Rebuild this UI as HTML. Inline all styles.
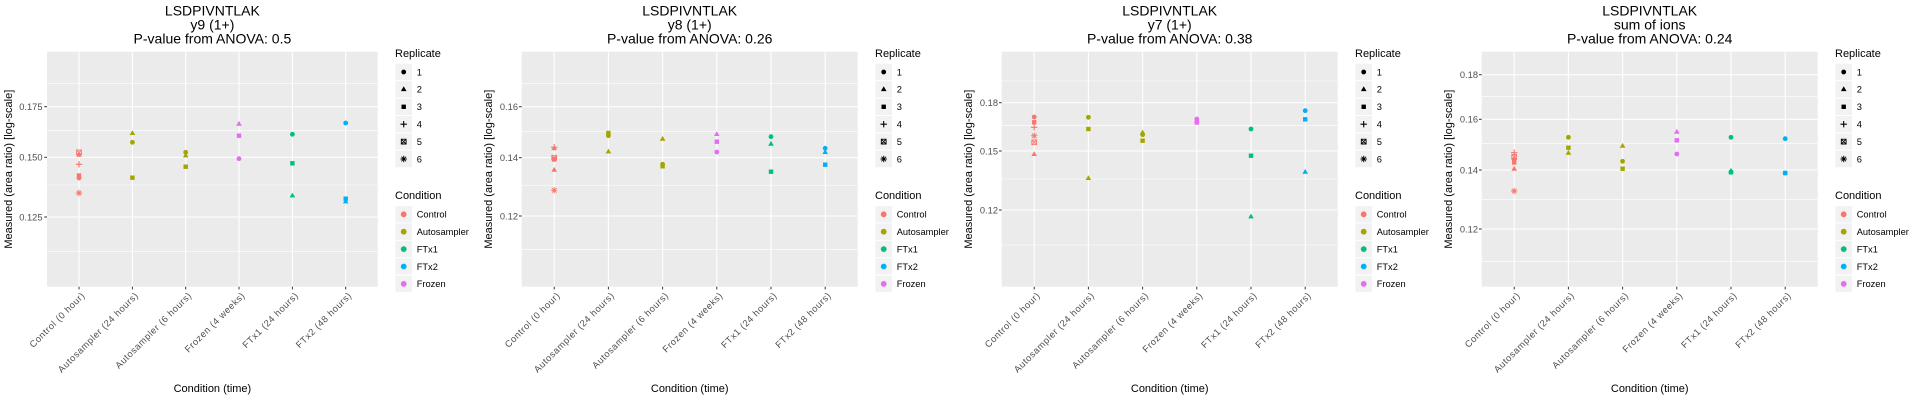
<!DOCTYPE html>
<html>
<head>
<meta charset="utf-8">
<style>
  html,body{margin:0;padding:0;background:#fff;}
  svg{display:block;}
  text{font-family:"Liberation Sans", Arial, sans-serif;}
  .tt{font-size:14px;fill:#000;}
  .at{font-size:11px;fill:#000;}
  .tk{font-size:9.3px;fill:#4D4D4D;}
  .xl{font-size:9.3px;fill:#4D4D4D;letter-spacing:0.55px;}
  .lt{font-size:11px;fill:#000;}
  .lx{font-size:9.3px;fill:#000;}
  .bg{fill:#EBEBEB;}
  .mj{stroke:#fff;stroke-width:1.07;}
  .mn{stroke:#fff;stroke-width:0.53;}
  .tc{stroke:#333;stroke-width:1;}
  .key{fill:#F2F2F2;stroke:#fff;stroke-width:1;}
</style>
</head>
<body>
<svg width="1920" height="400" viewBox="0 0 1920 400" xmlns="http://www.w3.org/2000/svg">
<defs>
  <circle id="m1" r="2.4"/>
  <path id="m2" d="M0,-3.1L2.8,1.7L-2.8,1.7Z"/>
  <rect id="m3" x="-2.2" y="-2.2" width="4.4" height="4.4"/>
  <path id="m4" d="M-3.2,0H3.2M0,-3.2V3.2" fill="none" stroke-width="1.1"/>
  <path id="m5" d="M-2.4,-2.4H2.4V2.4H-2.4ZM-2.4,-2.4L2.4,2.4M2.4,-2.4L-2.4,2.4" fill="none" stroke-width="0.9"/>
  <path id="m6" d="M-3.2,0H3.2M0,-3.2V3.2M-2.3,-2.3L2.3,2.3M2.3,-2.3L-2.3,2.3" fill="none" stroke-width="0.9"/>
  <circle id="lc" r="2.9"/>
</defs>
<rect x="0" y="0" width="1920" height="400" fill="#fff"/>

<!-- ================= PANEL 1 ================= -->
<g transform="translate(0,0)">
  <text class="tt" x="212.4" y="15.3" text-anchor="middle">LSDPIVNTLAK</text>
  <text class="tt" x="212.4" y="29.3" text-anchor="middle">y9 (1+)</text>
  <text class="tt" x="212.4" y="43.3" text-anchor="middle">P-value from ANOVA: 0.5</text>

  <rect class="bg" x="47" y="51.7" width="330.7" height="235"/>
  <line class="mn" x1="47" x2="377.7" y1="83.3" y2="83.3"/>
  <line class="mn" x1="47" x2="377.7" y1="130.7" y2="130.7"/>
  <line class="mn" x1="47" x2="377.7" y1="185" y2="185"/>
  <line class="mn" x1="47" x2="377.7" y1="251.7" y2="251.7"/>
  <line class="mj" x1="47" x2="377.7" y1="106.7" y2="106.7"/>
  <line class="mj" x1="47" x2="377.7" y1="157.3" y2="157.3"/>
  <line class="mj" x1="47" x2="377.7" y1="217" y2="217"/>
  <line class="mj" x1="79" x2="79" y1="51.7" y2="286.7"/>
  <line class="mj" x1="132.4" x2="132.4" y1="51.7" y2="286.7"/>
  <line class="mj" x1="185.7" x2="185.7" y1="51.7" y2="286.7"/>
  <line class="mj" x1="239" x2="239" y1="51.7" y2="286.7"/>
  <line class="mj" x1="292.4" x2="292.4" y1="51.7" y2="286.7"/>
  <line class="mj" x1="345.7" x2="345.7" y1="51.7" y2="286.7"/>

  <line class="tc" x1="44.3" x2="47" y1="106.7" y2="106.7"/>
  <line class="tc" x1="44.3" x2="47" y1="157.3" y2="157.3"/>
  <line class="tc" x1="44.3" x2="47" y1="217" y2="217"/>
  <text class="tk" x="42.5" y="110" text-anchor="end">0.175</text>
  <text class="tk" x="42.5" y="160.6" text-anchor="end">0.150</text>
  <text class="tk" x="42.5" y="220.3" text-anchor="end">0.125</text>

  <line class="tc" x1="79" x2="79" y1="286.7" y2="289.4"/>
  <line class="tc" x1="132.4" x2="132.4" y1="286.7" y2="289.4"/>
  <line class="tc" x1="185.7" x2="185.7" y1="286.7" y2="289.4"/>
  <line class="tc" x1="239" x2="239" y1="286.7" y2="289.4"/>
  <line class="tc" x1="292.4" x2="292.4" y1="286.7" y2="289.4"/>
  <line class="tc" x1="345.7" x2="345.7" y1="286.7" y2="289.4"/>
  <text class="xl" transform="translate(85.5,296) rotate(-45)" text-anchor="end">Control (0 hour)</text>
  <text class="xl" transform="translate(138.9,296) rotate(-45)" text-anchor="end">Autosampler (24 hours)</text>
  <text class="xl" transform="translate(192.2,296) rotate(-45)" text-anchor="end">Autosampler (6 hours)</text>
  <text class="xl" transform="translate(245.5,296) rotate(-45)" text-anchor="end">Frozen (4 weeks)</text>
  <text class="xl" transform="translate(298.9,296) rotate(-45)" text-anchor="end">FTx1 (24 hours)</text>
  <text class="xl" transform="translate(352.2,296) rotate(-45)" text-anchor="end">FTx2 (48 hours)</text>

  <text class="at" x="212.4" y="392" text-anchor="middle">Condition (time)</text>
  <text class="at" transform="translate(12,169.2) rotate(-90)" text-anchor="middle">Measured (area ratio) [log-scale]</text>

  <!-- points -->
  <use href="#m5" x="79" y="152.3" stroke="#F8766D"/>
  <use href="#m2" x="79" y="155" fill="#F8766D"/>
  <use href="#m4" x="79" y="164.3" stroke="#F8766D"/>
  <use href="#m3" x="79" y="175.5" fill="#F8766D"/>
  <use href="#m1" x="79" y="178" fill="#F8766D"/>
  <use href="#m6" x="79" y="193" stroke="#F8766D"/>

  <use href="#m2" x="132.4" y="133.3" fill="#A3A500"/>
  <use href="#m1" x="132.4" y="142.3" fill="#A3A500"/>
  <use href="#m3" x="132.4" y="177.7" fill="#A3A500"/>

  <use href="#m1" x="185.7" y="152.3" fill="#A3A500"/>
  <use href="#m2" x="185.7" y="155.7" fill="#A3A500"/>
  <use href="#m3" x="185.7" y="166.7" fill="#A3A500"/>

  <use href="#m2" x="239" y="124" fill="#E76BF3"/>
  <use href="#m3" x="239" y="135.7" fill="#E76BF3"/>
  <use href="#m1" x="239" y="158.7" fill="#E76BF3"/>

  <use href="#m1" x="292.4" y="134.3" fill="#00BF7D"/>
  <use href="#m3" x="292.4" y="163.3" fill="#00BF7D"/>
  <use href="#m2" x="292.4" y="195.7" fill="#00BF7D"/>

  <use href="#m1" x="345.7" y="123" fill="#00B0F6"/>
  <use href="#m3" x="345.7" y="198.7" fill="#00B0F6"/>
  <use href="#m2" x="345.7" y="201.7" fill="#00B0F6"/>

  <!-- legend -->
  <text class="lt" x="395" y="57">Replicate</text>
  <rect class="key" x="395" y="63.3" width="17.4" height="17.4"/>
  <rect class="key" x="395" y="80.7" width="17.4" height="17.4"/>
  <rect class="key" x="395" y="98.1" width="17.4" height="17.4"/>
  <rect class="key" x="395" y="115.5" width="17.4" height="17.4"/>
  <rect class="key" x="395" y="132.9" width="17.4" height="17.4"/>
  <rect class="key" x="395" y="150.3" width="17.4" height="17.4"/>
  <use href="#m1" x="403.7" y="72" fill="#000"/>
  <use href="#m2" x="403.7" y="89.4" fill="#000"/>
  <use href="#m3" x="403.7" y="106.8" fill="#000"/>
  <use href="#m4" x="403.7" y="124.2" stroke="#000"/>
  <use href="#m5" x="403.7" y="141.6" stroke="#000"/>
  <use href="#m6" x="403.7" y="159" stroke="#000"/>
  <text class="lx" x="416.7" y="75.3">1</text>
  <text class="lx" x="416.7" y="92.7">2</text>
  <text class="lx" x="416.7" y="110.1">3</text>
  <text class="lx" x="416.7" y="127.5">4</text>
  <text class="lx" x="416.7" y="144.9">5</text>
  <text class="lx" x="416.7" y="162.3">6</text>

  <text class="lt" x="395" y="199">Condition</text>
  <rect class="key" x="395" y="205.6" width="17.4" height="17.4"/>
  <rect class="key" x="395" y="223" width="17.4" height="17.4"/>
  <rect class="key" x="395" y="240.4" width="17.4" height="17.4"/>
  <rect class="key" x="395" y="257.8" width="17.4" height="17.4"/>
  <rect class="key" x="395" y="275.2" width="17.4" height="17.4"/>
  <use href="#lc" x="403.7" y="214.3" fill="#F8766D"/>
  <use href="#lc" x="403.7" y="231.7" fill="#A3A500"/>
  <use href="#lc" x="403.7" y="249.1" fill="#00BF7D"/>
  <use href="#lc" x="403.7" y="266.5" fill="#00B0F6"/>
  <use href="#lc" x="403.7" y="283.9" fill="#E76BF3"/>
  <text class="lx" x="416.7" y="217.6">Control</text>
  <text class="lx" x="416.7" y="235">Autosampler</text>
  <text class="lx" x="416.7" y="252.4">FTx1</text>
  <text class="lx" x="416.7" y="269.8">FTx2</text>
  <text class="lx" x="416.7" y="287.2">Frozen</text>
</g>

<!-- ================= PANEL 2 ================= -->
<g transform="translate(480,0)">
  <text class="tt" x="209.7" y="15.3" text-anchor="middle">LSDPIVNTLAK</text>
  <text class="tt" x="209.7" y="29.3" text-anchor="middle">y8 (1+)</text>
  <text class="tt" x="209.7" y="43.3" text-anchor="middle">P-value from ANOVA: 0.26</text>

  <rect class="bg" x="41.7" y="51.7" width="336" height="235"/>
  <line class="mn" x1="41.7" x2="377.7" y1="83.3" y2="83.3"/>
  <line class="mn" x1="41.7" x2="377.7" y1="131.7" y2="131.7"/>
  <line class="mn" x1="41.7" x2="377.7" y1="185.5" y2="185.5"/>
  <line class="mn" x1="41.7" x2="377.7" y1="249.3" y2="249.3"/>
  <line class="mj" x1="41.7" x2="377.7" y1="106.7" y2="106.7"/>
  <line class="mj" x1="41.7" x2="377.7" y1="157.7" y2="157.7"/>
  <line class="mj" x1="41.7" x2="377.7" y1="216" y2="216"/>
  <line class="mj" x1="74.2" x2="74.2" y1="51.7" y2="286.7"/>
  <line class="mj" x1="128.4" x2="128.4" y1="51.7" y2="286.7"/>
  <line class="mj" x1="182.6" x2="182.6" y1="51.7" y2="286.7"/>
  <line class="mj" x1="236.8" x2="236.8" y1="51.7" y2="286.7"/>
  <line class="mj" x1="291" x2="291" y1="51.7" y2="286.7"/>
  <line class="mj" x1="345.2" x2="345.2" y1="51.7" y2="286.7"/>

  <line class="tc" x1="39" x2="41.7" y1="106.7" y2="106.7"/>
  <line class="tc" x1="39" x2="41.7" y1="157.7" y2="157.7"/>
  <line class="tc" x1="39" x2="41.7" y1="216" y2="216"/>
  <text class="tk" x="38" y="110" text-anchor="end">0.16</text>
  <text class="tk" x="38" y="161" text-anchor="end">0.14</text>
  <text class="tk" x="38" y="219.3" text-anchor="end">0.12</text>

  <line class="tc" x1="74.2" x2="74.2" y1="286.7" y2="289.4"/>
  <line class="tc" x1="128.4" x2="128.4" y1="286.7" y2="289.4"/>
  <line class="tc" x1="182.6" x2="182.6" y1="286.7" y2="289.4"/>
  <line class="tc" x1="236.8" x2="236.8" y1="286.7" y2="289.4"/>
  <line class="tc" x1="291" x2="291" y1="286.7" y2="289.4"/>
  <line class="tc" x1="345.2" x2="345.2" y1="286.7" y2="289.4"/>
  <text class="xl" transform="translate(80.7,296) rotate(-45)" text-anchor="end">Control (0 hour)</text>
  <text class="xl" transform="translate(134.9,296) rotate(-45)" text-anchor="end">Autosampler (24 hours)</text>
  <text class="xl" transform="translate(189.1,296) rotate(-45)" text-anchor="end">Autosampler (6 hours)</text>
  <text class="xl" transform="translate(243.3,296) rotate(-45)" text-anchor="end">Frozen (4 weeks)</text>
  <text class="xl" transform="translate(297.5,296) rotate(-45)" text-anchor="end">FTx1 (24 hours)</text>
  <text class="xl" transform="translate(351.7,296) rotate(-45)" text-anchor="end">FTx2 (48 hours)</text>

  <text class="at" x="209.7" y="392" text-anchor="middle">Condition (time)</text>
  <text class="at" transform="translate(12,169.2) rotate(-90)" text-anchor="middle">Measured (area ratio) [log-scale]</text>

  <use href="#m2" x="74.2" y="148.3" fill="#F8766D"/>
  <use href="#m4" x="74.2" y="147.3" stroke="#F8766D"/>
  <use href="#m5" x="74.2" y="157.7" stroke="#F8766D"/>
  <use href="#m3" x="74.2" y="159.5" fill="#F8766D"/>
  <use href="#m1" x="74.2" y="159" fill="#F8766D"/>
  <use href="#m2" x="74.2" y="170" fill="#F8766D"/>
  <use href="#m6" x="74.2" y="190.3" stroke="#F8766D"/>

  <use href="#m3" x="128.4" y="133" fill="#A3A500"/>
  <use href="#m1" x="128.4" y="135.7" fill="#A3A500"/>
  <use href="#m2" x="128.4" y="151.7" fill="#A3A500"/>

  <use href="#m2" x="182.6" y="139" fill="#A3A500"/>
  <use href="#m1" x="182.6" y="164.3" fill="#A3A500"/>
  <use href="#m3" x="182.6" y="166.3" fill="#A3A500"/>

  <use href="#m2" x="236.8" y="134.3" fill="#E76BF3"/>
  <use href="#m3" x="236.8" y="141.7" fill="#E76BF3"/>
  <use href="#m1" x="236.8" y="152" fill="#E76BF3"/>

  <use href="#m1" x="291" y="136.7" fill="#00BF7D"/>
  <use href="#m2" x="291" y="144" fill="#00BF7D"/>
  <use href="#m3" x="291" y="171.7" fill="#00BF7D"/>

  <use href="#m1" x="345.2" y="148.3" fill="#00B0F6"/>
  <use href="#m2" x="345.2" y="152.3" fill="#00B0F6"/>
  <use href="#m3" x="345.2" y="164.7" fill="#00B0F6"/>

  <text class="lt" x="395" y="57">Replicate</text>
  <rect class="key" x="395" y="63.3" width="17.4" height="17.4"/>
  <rect class="key" x="395" y="80.7" width="17.4" height="17.4"/>
  <rect class="key" x="395" y="98.1" width="17.4" height="17.4"/>
  <rect class="key" x="395" y="115.5" width="17.4" height="17.4"/>
  <rect class="key" x="395" y="132.9" width="17.4" height="17.4"/>
  <rect class="key" x="395" y="150.3" width="17.4" height="17.4"/>
  <use href="#m1" x="403.7" y="72" fill="#000"/>
  <use href="#m2" x="403.7" y="89.4" fill="#000"/>
  <use href="#m3" x="403.7" y="106.8" fill="#000"/>
  <use href="#m4" x="403.7" y="124.2" stroke="#000"/>
  <use href="#m5" x="403.7" y="141.6" stroke="#000"/>
  <use href="#m6" x="403.7" y="159" stroke="#000"/>
  <text class="lx" x="416.7" y="75.3">1</text>
  <text class="lx" x="416.7" y="92.7">2</text>
  <text class="lx" x="416.7" y="110.1">3</text>
  <text class="lx" x="416.7" y="127.5">4</text>
  <text class="lx" x="416.7" y="144.9">5</text>
  <text class="lx" x="416.7" y="162.3">6</text>

  <text class="lt" x="395" y="199">Condition</text>
  <rect class="key" x="395" y="205.6" width="17.4" height="17.4"/>
  <rect class="key" x="395" y="223" width="17.4" height="17.4"/>
  <rect class="key" x="395" y="240.4" width="17.4" height="17.4"/>
  <rect class="key" x="395" y="257.8" width="17.4" height="17.4"/>
  <rect class="key" x="395" y="275.2" width="17.4" height="17.4"/>
  <use href="#lc" x="403.7" y="214.3" fill="#F8766D"/>
  <use href="#lc" x="403.7" y="231.7" fill="#A3A500"/>
  <use href="#lc" x="403.7" y="249.1" fill="#00BF7D"/>
  <use href="#lc" x="403.7" y="266.5" fill="#00B0F6"/>
  <use href="#lc" x="403.7" y="283.9" fill="#E76BF3"/>
  <text class="lx" x="416.7" y="217.6">Control</text>
  <text class="lx" x="416.7" y="235">Autosampler</text>
  <text class="lx" x="416.7" y="252.4">FTx1</text>
  <text class="lx" x="416.7" y="269.8">FTx2</text>
  <text class="lx" x="416.7" y="287.2">Frozen</text>
</g>

<!-- ================= PANEL 3 ================= -->
<g transform="translate(960,0)">
  <text class="tt" x="209.7" y="15.3" text-anchor="middle">LSDPIVNTLAK</text>
  <text class="tt" x="209.7" y="29.3" text-anchor="middle">y7 (1+)</text>
  <text class="tt" x="209.7" y="43.3" text-anchor="middle">P-value from ANOVA: 0.38</text>

  <rect class="bg" x="41.7" y="51.7" width="336" height="235"/>
  <line class="mn" x1="41.7" x2="377.7" y1="81" y2="81"/>
  <line class="mn" x1="41.7" x2="377.7" y1="125.7" y2="125.7"/>
  <line class="mn" x1="41.7" x2="377.7" y1="179" y2="179"/>
  <line class="mn" x1="41.7" x2="377.7" y1="245" y2="245"/>
  <line class="mj" x1="41.7" x2="377.7" y1="102.7" y2="102.7"/>
  <line class="mj" x1="41.7" x2="377.7" y1="151" y2="151"/>
  <line class="mj" x1="41.7" x2="377.7" y1="210" y2="210"/>
  <line class="mj" x1="74.2" x2="74.2" y1="51.7" y2="286.7"/>
  <line class="mj" x1="128.4" x2="128.4" y1="51.7" y2="286.7"/>
  <line class="mj" x1="182.6" x2="182.6" y1="51.7" y2="286.7"/>
  <line class="mj" x1="236.8" x2="236.8" y1="51.7" y2="286.7"/>
  <line class="mj" x1="291" x2="291" y1="51.7" y2="286.7"/>
  <line class="mj" x1="345.2" x2="345.2" y1="51.7" y2="286.7"/>

  <line class="tc" x1="39" x2="41.7" y1="102.7" y2="102.7"/>
  <line class="tc" x1="39" x2="41.7" y1="151" y2="151"/>
  <line class="tc" x1="39" x2="41.7" y1="210" y2="210"/>
  <text class="tk" x="38" y="106" text-anchor="end">0.18</text>
  <text class="tk" x="38" y="154.3" text-anchor="end">0.15</text>
  <text class="tk" x="38" y="213.3" text-anchor="end">0.12</text>

  <line class="tc" x1="74.2" x2="74.2" y1="286.7" y2="289.4"/>
  <line class="tc" x1="128.4" x2="128.4" y1="286.7" y2="289.4"/>
  <line class="tc" x1="182.6" x2="182.6" y1="286.7" y2="289.4"/>
  <line class="tc" x1="236.8" x2="236.8" y1="286.7" y2="289.4"/>
  <line class="tc" x1="291" x2="291" y1="286.7" y2="289.4"/>
  <line class="tc" x1="345.2" x2="345.2" y1="286.7" y2="289.4"/>
  <text class="xl" transform="translate(80.7,296) rotate(-45)" text-anchor="end">Control (0 hour)</text>
  <text class="xl" transform="translate(134.9,296) rotate(-45)" text-anchor="end">Autosampler (24 hours)</text>
  <text class="xl" transform="translate(189.1,296) rotate(-45)" text-anchor="end">Autosampler (6 hours)</text>
  <text class="xl" transform="translate(243.3,296) rotate(-45)" text-anchor="end">Frozen (4 weeks)</text>
  <text class="xl" transform="translate(297.5,296) rotate(-45)" text-anchor="end">FTx1 (24 hours)</text>
  <text class="xl" transform="translate(351.7,296) rotate(-45)" text-anchor="end">FTx2 (48 hours)</text>

  <text class="at" x="209.7" y="392" text-anchor="middle">Condition (time)</text>
  <text class="at" transform="translate(12,169.2) rotate(-90)" text-anchor="middle">Measured (area ratio) [log-scale]</text>

  <use href="#m1" x="74.2" y="117" fill="#F8766D"/>
  <use href="#m3" x="74.2" y="122.3" fill="#F8766D"/>
  <use href="#m4" x="74.2" y="127.3" stroke="#F8766D"/>
  <use href="#m6" x="74.2" y="135.7" stroke="#F8766D"/>
  <use href="#m5" x="74.2" y="142.3" stroke="#F8766D"/>
  <use href="#m2" x="74.2" y="154.3" fill="#F8766D"/>

  <use href="#m1" x="128.4" y="117.3" fill="#A3A500"/>
  <use href="#m3" x="128.4" y="129" fill="#A3A500"/>
  <use href="#m2" x="128.4" y="178.3" fill="#A3A500"/>

  <use href="#m2" x="182.6" y="132.7" fill="#A3A500"/>
  <use href="#m1" x="182.6" y="134.7" fill="#A3A500"/>
  <use href="#m3" x="182.6" y="140.7" fill="#A3A500"/>

  <use href="#m1" x="236.8" y="119" fill="#E76BF3"/>
  <use href="#m2" x="236.8" y="121" fill="#E76BF3"/>
  <use href="#m3" x="236.8" y="122.5" fill="#E76BF3"/>

  <use href="#m1" x="291" y="129" fill="#00BF7D"/>
  <use href="#m3" x="291" y="155.7" fill="#00BF7D"/>
  <use href="#m2" x="291" y="216.7" fill="#00BF7D"/>

  <use href="#m1" x="345.2" y="110.7" fill="#00B0F6"/>
  <use href="#m3" x="345.2" y="119.3" fill="#00B0F6"/>
  <use href="#m2" x="345.2" y="172" fill="#00B0F6"/>

  <text class="lt" x="395" y="57">Replicate</text>
  <rect class="key" x="395" y="63.3" width="17.4" height="17.4"/>
  <rect class="key" x="395" y="80.7" width="17.4" height="17.4"/>
  <rect class="key" x="395" y="98.1" width="17.4" height="17.4"/>
  <rect class="key" x="395" y="115.5" width="17.4" height="17.4"/>
  <rect class="key" x="395" y="132.9" width="17.4" height="17.4"/>
  <rect class="key" x="395" y="150.3" width="17.4" height="17.4"/>
  <use href="#m1" x="403.7" y="72" fill="#000"/>
  <use href="#m2" x="403.7" y="89.4" fill="#000"/>
  <use href="#m3" x="403.7" y="106.8" fill="#000"/>
  <use href="#m4" x="403.7" y="124.2" stroke="#000"/>
  <use href="#m5" x="403.7" y="141.6" stroke="#000"/>
  <use href="#m6" x="403.7" y="159" stroke="#000"/>
  <text class="lx" x="416.7" y="75.3">1</text>
  <text class="lx" x="416.7" y="92.7">2</text>
  <text class="lx" x="416.7" y="110.1">3</text>
  <text class="lx" x="416.7" y="127.5">4</text>
  <text class="lx" x="416.7" y="144.9">5</text>
  <text class="lx" x="416.7" y="162.3">6</text>

  <text class="lt" x="395" y="199">Condition</text>
  <rect class="key" x="395" y="205.6" width="17.4" height="17.4"/>
  <rect class="key" x="395" y="223" width="17.4" height="17.4"/>
  <rect class="key" x="395" y="240.4" width="17.4" height="17.4"/>
  <rect class="key" x="395" y="257.8" width="17.4" height="17.4"/>
  <rect class="key" x="395" y="275.2" width="17.4" height="17.4"/>
  <use href="#lc" x="403.7" y="214.3" fill="#F8766D"/>
  <use href="#lc" x="403.7" y="231.7" fill="#A3A500"/>
  <use href="#lc" x="403.7" y="249.1" fill="#00BF7D"/>
  <use href="#lc" x="403.7" y="266.5" fill="#00B0F6"/>
  <use href="#lc" x="403.7" y="283.9" fill="#E76BF3"/>
  <text class="lx" x="416.7" y="217.6">Control</text>
  <text class="lx" x="416.7" y="235">Autosampler</text>
  <text class="lx" x="416.7" y="252.4">FTx1</text>
  <text class="lx" x="416.7" y="269.8">FTx2</text>
  <text class="lx" x="416.7" y="287.2">Frozen</text>
</g>

<!-- ================= PANEL 4 ================= -->
<g transform="translate(1440,0)">
  <text class="tt" x="209.7" y="15.3" text-anchor="middle">LSDPIVNTLAK</text>
  <text class="tt" x="209.7" y="29.3" text-anchor="middle">sum of ions</text>
  <text class="tt" x="209.7" y="43.3" text-anchor="middle">P-value from ANOVA: 0.24</text>

  <rect class="bg" x="41.7" y="51.7" width="336" height="235"/>
  <line class="mn" x1="41.7" x2="377.7" y1="96.7" y2="96.7"/>
  <line class="mn" x1="41.7" x2="377.7" y1="143.3" y2="143.3"/>
  <line class="mn" x1="41.7" x2="377.7" y1="199.3" y2="199.3"/>
  <line class="mn" x1="41.7" x2="377.7" y1="261.7" y2="261.7"/>
  <line class="mj" x1="41.7" x2="377.7" y1="74.7" y2="74.7"/>
  <line class="mj" x1="41.7" x2="377.7" y1="119.3" y2="119.3"/>
  <line class="mj" x1="41.7" x2="377.7" y1="170" y2="170"/>
  <line class="mj" x1="41.7" x2="377.7" y1="229" y2="229"/>
  <line class="mj" x1="74.2" x2="74.2" y1="51.7" y2="286.7"/>
  <line class="mj" x1="128.4" x2="128.4" y1="51.7" y2="286.7"/>
  <line class="mj" x1="182.6" x2="182.6" y1="51.7" y2="286.7"/>
  <line class="mj" x1="236.8" x2="236.8" y1="51.7" y2="286.7"/>
  <line class="mj" x1="291" x2="291" y1="51.7" y2="286.7"/>
  <line class="mj" x1="345.2" x2="345.2" y1="51.7" y2="286.7"/>

  <line class="tc" x1="39" x2="41.7" y1="74.7" y2="74.7"/>
  <line class="tc" x1="39" x2="41.7" y1="119.3" y2="119.3"/>
  <line class="tc" x1="39" x2="41.7" y1="170" y2="170"/>
  <line class="tc" x1="39" x2="41.7" y1="229" y2="229"/>
  <text class="tk" x="38" y="78" text-anchor="end">0.18</text>
  <text class="tk" x="38" y="122.6" text-anchor="end">0.16</text>
  <text class="tk" x="38" y="173.3" text-anchor="end">0.14</text>
  <text class="tk" x="38" y="232.3" text-anchor="end">0.12</text>

  <line class="tc" x1="74.2" x2="74.2" y1="286.7" y2="289.4"/>
  <line class="tc" x1="128.4" x2="128.4" y1="286.7" y2="289.4"/>
  <line class="tc" x1="182.6" x2="182.6" y1="286.7" y2="289.4"/>
  <line class="tc" x1="236.8" x2="236.8" y1="286.7" y2="289.4"/>
  <line class="tc" x1="291" x2="291" y1="286.7" y2="289.4"/>
  <line class="tc" x1="345.2" x2="345.2" y1="286.7" y2="289.4"/>
  <text class="xl" transform="translate(80.7,296) rotate(-45)" text-anchor="end">Control (0 hour)</text>
  <text class="xl" transform="translate(134.9,296) rotate(-45)" text-anchor="end">Autosampler (24 hours)</text>
  <text class="xl" transform="translate(189.1,296) rotate(-45)" text-anchor="end">Autosampler (6 hours)</text>
  <text class="xl" transform="translate(243.3,296) rotate(-45)" text-anchor="end">Frozen (4 weeks)</text>
  <text class="xl" transform="translate(297.5,296) rotate(-45)" text-anchor="end">FTx1 (24 hours)</text>
  <text class="xl" transform="translate(351.7,296) rotate(-45)" text-anchor="end">FTx2 (48 hours)</text>

  <text class="at" x="209.7" y="392" text-anchor="middle">Condition (time)</text>
  <text class="at" transform="translate(12,169.2) rotate(-90)" text-anchor="middle">Measured (area ratio) [log-scale]</text>

  <use href="#m4" x="74.2" y="152.7" stroke="#F8766D"/>
  <use href="#m5" x="74.2" y="157" stroke="#F8766D"/>
  <use href="#m1" x="74.2" y="159.5" fill="#F8766D"/>
  <use href="#m3" x="74.2" y="162.5" fill="#F8766D"/>
  <use href="#m2" x="74.2" y="169" fill="#F8766D"/>
  <use href="#m6" x="74.2" y="191" stroke="#F8766D"/>

  <use href="#m1" x="128.4" y="137.3" fill="#A3A500"/>
  <use href="#m3" x="128.4" y="147.7" fill="#A3A500"/>
  <use href="#m2" x="128.4" y="153" fill="#A3A500"/>

  <use href="#m2" x="182.6" y="146" fill="#A3A500"/>
  <use href="#m1" x="182.6" y="161.3" fill="#A3A500"/>
  <use href="#m3" x="182.6" y="168.7" fill="#A3A500"/>

  <use href="#m2" x="236.8" y="132" fill="#E76BF3"/>
  <use href="#m3" x="236.8" y="140.3" fill="#E76BF3"/>
  <use href="#m1" x="236.8" y="154" fill="#E76BF3"/>

  <use href="#m1" x="291" y="137.3" fill="#00BF7D"/>
  <use href="#m2" x="291" y="171" fill="#00BF7D"/>
  <use href="#m3" x="291" y="172.3" fill="#00BF7D"/>

  <use href="#m1" x="345.2" y="138.7" fill="#00B0F6"/>
  <use href="#m3" x="345.2" y="173" fill="#00B0F6"/>
  <use href="#m1" x="345.2" y="173" fill="#00B0F6"/>

  <text class="lt" x="395" y="57">Replicate</text>
  <rect class="key" x="395" y="63.3" width="17.4" height="17.4"/>
  <rect class="key" x="395" y="80.7" width="17.4" height="17.4"/>
  <rect class="key" x="395" y="98.1" width="17.4" height="17.4"/>
  <rect class="key" x="395" y="115.5" width="17.4" height="17.4"/>
  <rect class="key" x="395" y="132.9" width="17.4" height="17.4"/>
  <rect class="key" x="395" y="150.3" width="17.4" height="17.4"/>
  <use href="#m1" x="403.7" y="72" fill="#000"/>
  <use href="#m2" x="403.7" y="89.4" fill="#000"/>
  <use href="#m3" x="403.7" y="106.8" fill="#000"/>
  <use href="#m4" x="403.7" y="124.2" stroke="#000"/>
  <use href="#m5" x="403.7" y="141.6" stroke="#000"/>
  <use href="#m6" x="403.7" y="159" stroke="#000"/>
  <text class="lx" x="416.7" y="75.3">1</text>
  <text class="lx" x="416.7" y="92.7">2</text>
  <text class="lx" x="416.7" y="110.1">3</text>
  <text class="lx" x="416.7" y="127.5">4</text>
  <text class="lx" x="416.7" y="144.9">5</text>
  <text class="lx" x="416.7" y="162.3">6</text>

  <text class="lt" x="395" y="199">Condition</text>
  <rect class="key" x="395" y="205.6" width="17.4" height="17.4"/>
  <rect class="key" x="395" y="223" width="17.4" height="17.4"/>
  <rect class="key" x="395" y="240.4" width="17.4" height="17.4"/>
  <rect class="key" x="395" y="257.8" width="17.4" height="17.4"/>
  <rect class="key" x="395" y="275.2" width="17.4" height="17.4"/>
  <use href="#lc" x="403.7" y="214.3" fill="#F8766D"/>
  <use href="#lc" x="403.7" y="231.7" fill="#A3A500"/>
  <use href="#lc" x="403.7" y="249.1" fill="#00BF7D"/>
  <use href="#lc" x="403.7" y="266.5" fill="#00B0F6"/>
  <use href="#lc" x="403.7" y="283.9" fill="#E76BF3"/>
  <text class="lx" x="416.7" y="217.6">Control</text>
  <text class="lx" x="416.7" y="235">Autosampler</text>
  <text class="lx" x="416.7" y="252.4">FTx1</text>
  <text class="lx" x="416.7" y="269.8">FTx2</text>
  <text class="lx" x="416.7" y="287.2">Frozen</text>
</g>
</svg>
</body>
</html>
